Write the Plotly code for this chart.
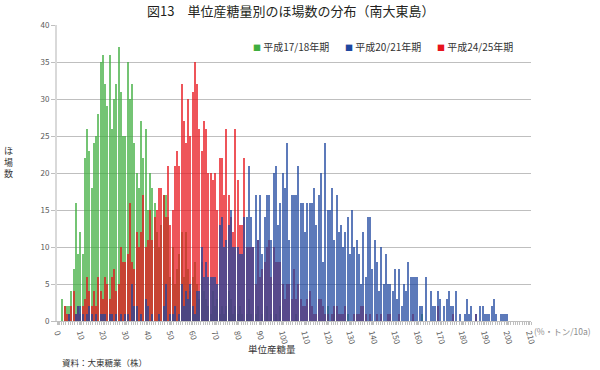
import plotly.graph_objects as go

categories = list(range(0, 211))
tick_values = list(range(0, 211, 10))
tick_labels = [str(v) for v in tick_values]

h17_18 = [
    0, 0, 3, 2, 2, 2, 4, 7, 16, 9,
    12, 9, 22, 26, 23, 18, 24, 25, 28, 35,
    36, 32, 29, 36, 26, 30, 32, 37, 31, 25,
    25, 35, 30, 32, 24, 20, 18, 27, 22, 26,
    15, 20, 18, 16, 12, 10, 13, 17, 17, 14,
    6, 10, 5, 7, 9, 12, 6, 12, 7, 4,
    6, 8, 5, 3, 8, 4, 3, 2, 1, 4,
    2, 3, 1, 2, 1, 2, 4, 3, 1, 2,
    1, 2, 1, 0, 1, 3, 1, 0, 1, 2,
    0, 1, 0, 2, 0, 1, 0, 1, 0, 2,
    0, 0, 0, 0, 0, 0, 1, 0, 0, 0,
    0, 0, 0, 0, 0, 0, 0, 0, 0, 0,
    2, 0, 0, 1, 0, 0, 0, 0, 0, 1,
    0, 0, 0, 0, 0, 0, 0, 0, 0, 0,
    0, 0, 0, 0, 0, 0, 0, 0, 0, 0,
    0, 0, 0, 0, 0, 0, 0, 0, 0, 0,
    0, 0, 1, 0, 0, 0, 0, 0, 0, 0,
    0, 0, 0, 0, 0, 0, 0, 0, 0, 0,
    0, 0, 0, 0, 0, 0, 0, 0, 0, 0,
    0, 0, 0, 0, 0, 0, 0, 0, 0, 0,
    0, 0, 0, 0, 0, 0, 0, 0, 0, 0,
    0,
]

h20_21 = [
    0, 0, 0, 0, 0, 1, 0, 0, 1, 2,
    2, 1, 0, 1, 2, 1, 0, 1, 0, 1,
    1, 1, 0, 1, 1, 0, 1, 0, 1, 0,
    1, 1, 0, 5, 2, 2, 0, 1, 0, 3,
    2, 0, 1, 0, 0, 1, 0, 2, 5, 0,
    1, 1, 2, 0, 1, 5, 2, 4, 3, 5,
    2, 1, 4, 4, 10, 6, 8, 6, 6, 6,
    6, 5, 13, 14, 10, 11, 13, 15, 10, 10,
    10, 9, 9, 14, 14, 21, 14, 10, 17, 11,
    17, 9, 14, 17, 17, 11, 20, 21, 13, 16,
    20, 18, 24, 11, 17, 17, 17, 21, 16, 16,
    12, 16, 16, 16, 18, 13, 17, 20, 8, 24,
    15, 15, 18, 11, 17, 12, 13, 10, 12, 14,
    9, 15, 10, 11, 9, 5, 12, 6, 14, 14,
    7, 11, 8, 4, 10, 5, 9, 5, 5, 4,
    7, 3, 7, 2, 5, 4, 8, 6, 6, 6,
    6, 2, 2, 0, 6, 0, 4, 2, 2, 4,
    3, 0, 2, 3, 4, 2, 2, 4, 0, 1,
    0, 1, 3, 1, 2, 0, 1, 0, 2, 2,
    1, 1, 1, 2, 3, 1, 0, 1, 1, 1,
    1, 0, 0, 0, 0, 0, 0, 0, 0, 0,
    0,
]

h24_25 = [
    0, 0, 0, 2, 1, 1, 2, 4, 1, 2,
    1, 2, 3, 6, 4, 2, 4, 2, 6, 4,
    3, 6, 5, 3, 6, 7, 4, 5, 10, 8,
    8, 9, 16, 8, 7, 12, 10, 12, 17, 10,
    11, 15, 11, 14, 15, 18, 18, 17, 14, 21,
    13, 15, 21, 23, 21, 32, 27, 24, 30, 25,
    31, 35, 32, 26, 23, 27, 26, 20, 20, 19,
    20, 15, 22, 22, 17, 26, 17, 14, 12, 26,
    19, 13, 13, 22, 10, 10, 10, 10, 5, 11,
    6, 7, 8, 10, 11, 6, 10, 8, 8, 8,
    5, 3, 5, 5, 3, 7, 3, 5, 3, 2,
    2, 3, 4, 2, 1, 1, 3, 3, 2, 1,
    1, 0, 1, 2, 2, 1, 1, 1, 2, 0,
    0, 0, 1, 1, 1, 2, 2, 1, 0, 1,
    0, 0, 1, 0, 1, 0, 0, 1, 1, 0,
    0, 0, 1, 0, 0, 0, 0, 0, 1, 0,
    0, 0, 0, 0, 0, 0, 0, 0, 0, 2,
    0, 0, 0, 0, 0, 0, 1, 0, 0, 0,
    0, 0, 0, 0, 0, 0, 1, 0, 0, 0,
    0, 0, 0, 0, 0, 0, 0, 0, 0, 0,
    0, 0, 0, 0, 0, 0, 0, 0, 0, 0,
    0,
]

series_names = ["平成17/18年期", "平成20/21年期", "平成24/25年期"]
series_colors = ["#3fae3f", "#1f47a0", "#e8141c"]

FONT = "Noto Sans CJK JP"

fig = go.Figure()
# draw order: green (back), red, blue (front)
for name, vals, col in [
    (series_names[0], h17_18, series_colors[0]),
    (series_names[2], h24_25, series_colors[2]),
    (series_names[1], h20_21, series_colors[1]),
]:
    fig.add_trace(go.Bar(
        x=categories, y=vals, name=name, width=0.6,
        marker=dict(color=col, line=dict(width=0)),
        opacity=0.72, showlegend=False,
    ))

ML, MR, MT, MB = 57, 69, 25, 49
fig.update_layout(
    width=600, height=370,
    margin=dict(l=ML, r=MR, t=MT, b=MB, autoexpand=False),
    paper_bgcolor="white", plot_bgcolor="white",
    barmode="overlay", bargap=0,
    font=dict(family=FONT, color="#595959", size=8),
    showlegend=False,
)

fig.update_xaxes(
    range=[-0.5, 210.5], automargin=False,
    tickmode="array", tickvals=tick_values, ticktext=tick_labels,
    tickangle=75, tickfont=dict(size=8, color="#595959"),
    ticks="outside", ticklen=3, tickcolor="#bfbfbf",
    minor=dict(ticks="outside", ticklen=3, tick0=0.5, dtick=1, tickcolor="#bfbfbf"),
    showline=True, linecolor="#bfbfbf", linewidth=1,
    showgrid=False, zeroline=False,
)
fig.update_yaxes(
    range=[0, 40], dtick=5, automargin=False,
    tickfont=dict(size=8, color="#595959"),
    ticks="outside", ticklen=4, tickcolor="#bfbfbf",
    showline=True, linecolor="#d9d9d9", linewidth=2,
    showgrid=True, gridcolor="#bfbfbf", gridwidth=1,
    zeroline=False,
)

pw, ph = 600 - ML - MR, 370 - MT - MB


def px_ann(text, x, y, size, color, xanchor="center"):
    """x, y are pixel positions measured from the top-left corner."""
    return dict(text=text, xref="paper", yref="paper",
                x=(x - ML) / pw, y=(370 - y - MB) / ph,
                xanchor=xanchor, yanchor="middle", showarrow=False,
                font=dict(size=size, color=color, family=FONT))


ann = [px_ann("図13　単位産糖量別のほ場数の分布（南大東島）", 290, 10, 13, "#231f20")]
legend_x = [251, 343, 435]
for name, col, lx in zip(series_names, series_colors, legend_x):
    ann.append(px_ann(f'<span style="color:{col};font-size:8px">■</span> {name}',
                      lx, 46, 10, "#333333", xanchor="left"))
ann.append(px_ann("ほ<br>場<br>数", 8, 162, 9, "#333333"))
ann.append(px_ann("単位産糖量", 272, 349, 9.5, "#333333"))
ann.append(px_ann("(%・トン/10a)", 532, 331, 8.5, "#8c8c8c", xanchor="left"))
ann.append(px_ann("資料：大東糖業（株）", 60, 362, 8.5, "#333333", xanchor="left"))
fig.update_layout(annotations=ann)

fig.write_html(
    "out.html",
    config={"displayModeBar": False},
    post_script="document.body.style.margin='0';document.body.style.overflow='hidden';",
)
